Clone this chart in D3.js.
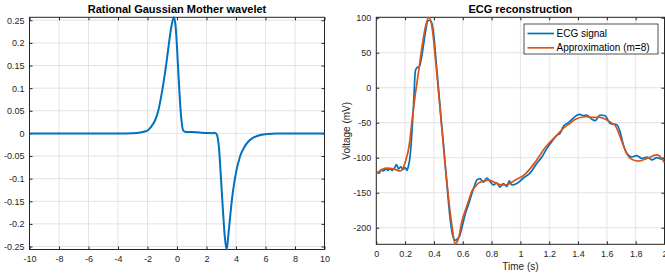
<!DOCTYPE html>
<html>
<head>
<meta charset="utf-8">
<script src="https://cdn.jsdelivr.net/npm/d3@7"></script>
<style>
  body { margin: 0; background: #fff; }
  svg { display: block; font-family: "Liberation Sans", Arial, sans-serif; }
</style>
</head>
<body>
<div id="chart"></div>
<script>
// Rational Gaussian mother wavelet
const waveX = [-10, -4, -3, -2.5, -2.0, -1.8, -1.5, -1.3, -1.0, -0.75, -0.55, -0.4, -0.22,
  -0.1, 0.0, 0.1, 0.2, 0.3, 0.43, 0.6, 1.0, 1.5, 2.0, 2.4, 2.55, 2.69, 2.85, 2.98, 3.12,
  3.25, 3.37, 3.46, 3.55, 3.71, 3.93, 4.27, 4.55, 4.84, 5.2, 5.74, 6.5, 10];
const waveY = [0, 0, 0.0005, 0.002, 0.006, 0.013, 0.028, 0.046, 0.095, 0.148, 0.198, 0.232, 0.2566,
  0.238, 0.19, 0.13, 0.072, 0.03, 0.006, 0.003, 0.003, 0.002, 0.001, 0.0005, 0.0012, -0.002, -0.033, -0.099, -0.173,
  -0.232, -0.2566, -0.232, -0.202, -0.15, -0.099, -0.051, -0.031, -0.018, -0.009, -0.003, -0.0005, 0];

// ECG signal
const ecgT = [0, 0.01, 0.02, 0.035, 0.05, 0.065, 0.08, 0.095, 0.11, 0.125, 0.14, 0.155, 0.17, 0.185,
  0.2, 0.213, 0.222, 0.236, 0.248, 0.26, 0.271, 0.283, 0.299, 0.317, 0.34, 0.359, 0.375, 0.387,
  0.398, 0.415, 0.433, 0.45, 0.468, 0.483, 0.498, 0.514, 0.53, 0.549, 0.562, 0.576, 0.595, 0.618,
  0.641, 0.653, 0.665, 0.685, 0.697, 0.72, 0.743, 0.766, 0.79, 0.813, 0.836, 0.859, 0.882, 0.905,
  0.924, 0.94, 0.975, 1.02, 1.067, 1.114, 1.149, 1.183, 1.218, 1.253, 1.276, 1.299, 1.333, 1.36,
  1.38, 1.41, 1.438, 1.461, 1.496, 1.519, 1.553, 1.588, 1.623, 1.669, 1.692, 1.715, 1.739, 1.773,
  1.808, 1.843, 1.878, 1.913, 1.947, 1.982, 2.0];
const ecgV = [-123, -121, -122, -117, -119, -116, -118, -116, -118, -115, -110, -116, -113, -117,
  -114, -118, -113, -95, -61, -18, 24, 29, 30, 47, 78, 96, 96, 91,
  77, 38, -4, -45, -85, -120, -157, -190, -211, -218, -216, -213, -199, -180,
  -166, -158, -150, -138, -132, -130, -135, -129, -134, -139, -136, -142, -137, -141,
  -133, -139, -137, -129, -122, -108, -99, -87, -77, -68, -65, -55, -50, -45,
  -41, -38, -40, -39, -45, -47, -39, -40, -51, -53, -63, -82, -94, -99,
  -97, -101, -99, -103, -100, -102, -100];

// Approximation (m=8)
const apxT = [0, 0.04, 0.074, 0.12, 0.167, 0.2, 0.23, 0.248, 0.271, 0.294, 0.317, 0.34, 0.364,
  0.387, 0.41, 0.433, 0.456, 0.479, 0.503, 0.526, 0.546, 0.572, 0.595, 0.618, 0.641, 0.665,
  0.688, 0.711, 0.75, 0.78, 0.85, 0.896, 0.965, 1.035, 1.104, 1.174, 1.243, 1.31, 1.345, 1.382,
  1.451, 1.507, 1.544, 1.6, 1.637, 1.658, 1.692, 1.727, 1.762, 1.82, 1.878, 1.947, 1.982, 2.0];
const apxV = [-123, -117, -115, -116, -119, -107, -80, -47, -9, 24, 58, 86, 100.5,
  86, 43, -9, -61, -114, -161, -199, -223, -214, -190, -175, -161, -147,
  -141, -136, -133, -132, -138, -139, -132, -123, -106, -85, -70, -56, -51, -45,
  -41.5, -42.5, -42, -46, -51, -54, -70, -89, -101, -105, -101, -96, -101, -107];

const waveXTicks = [-10, -8, -6, -4, -2, 0, 2, 4, 6, 8, 10];
const waveYTicks = [-0.25, -0.2, -0.15, -0.1, -0.05, 0, 0.05, 0.1, 0.15, 0.2, 0.25];
const ecgXTicks = [0, 0.2, 0.4, 0.6, 0.8, 1, 1.2, 1.4, 1.6, 1.8, 2];
const ecgYTicks = [-200, -150, -100, -50, 0, 50, 100];

const blue = "#0072BD", orange = "#D95319", ink = "#262626", gridCol = "#e3e3e3";
const fmt = d => String(d); // plain hyphen minus, like MATLAB

const svg = d3.select("#chart").append("svg")
  .attr("width", 665).attr("height", 274);

function panel(opt) {
  const { left, right, top, bottom, xDom, yDom, xTicks, yTicks, title, id } = opt;
  const w = right - left, h = bottom - top;
  const x = d3.scaleLinear().domain(xDom).range([0, w]);
  const y = d3.scaleLinear().domain(yDom).range([h, 0]);
  const g = svg.append("g").attr("transform", `translate(${left},${top})`);

  // grid
  g.append("g").selectAll("line").data(xTicks).join("line")
    .attr("x1", d => x(d)).attr("x2", d => x(d)).attr("y1", 0).attr("y2", h)
    .attr("stroke", gridCol);
  g.append("g").selectAll("line").data(yTicks).join("line")
    .attr("y1", d => y(d)).attr("y2", d => y(d)).attr("x1", 0).attr("x2", w)
    .attr("stroke", gridCol);

  g.append("clipPath").attr("id", id).append("rect")
    .attr("x", 0).attr("y", -1).attr("width", w).attr("height", h + 2);

  // axes with inward ticks
  const styleAxis = sel => {
    sel.select(".domain").remove();
    sel.selectAll("line").attr("stroke", ink);
    sel.selectAll("text").attr("fill", ink).style("font-size", "9px");
  };
  g.append("g").attr("transform", `translate(0,${h})`)
    .call(d3.axisBottom(x).tickValues(xTicks).tickSize(-3).tickPadding(6).tickFormat(fmt))
    .call(styleAxis);
  g.append("g")
    .call(d3.axisTop(x).tickValues(xTicks).tickSize(-3).tickFormat(""))
    .call(styleAxis);
  g.append("g")
    .call(d3.axisLeft(y).tickValues(yTicks).tickSize(-3).tickPadding(5).tickFormat(fmt))
    .call(styleAxis);
  g.append("g").attr("transform", `translate(${w},0)`)
    .call(d3.axisRight(y).tickValues(yTicks).tickSize(-3).tickFormat(""))
    .call(styleAxis);

  g.append("rect").attr("width", w).attr("height", h)
    .attr("fill", "none").attr("stroke", ink).attr("stroke-width", 1);

  svg.append("text")
    .attr("x", left + w / 2).attr("y", 13)
    .attr("text-anchor", "middle")
    .attr("fill", "#000")
    .style("font-size", "11px").style("font-weight", "bold")
    .text(title);

  return { g, x, y, w, h };
}

// left: wavelet
const p1 = panel({
  left: 29.5, right: 324.5, top: 17.3, bottom: 249.5,
  xDom: [-10, 10], yDom: [-0.2566, 0.2566],
  xTicks: waveXTicks, yTicks: waveYTicks,
  title: "Rational Gaussian Mother wavelet", id: "clipA"
});
const waveData = waveX.map((d, i) => [d, waveY[i]]);
p1.g.append("path").datum(waveData)
  .attr("clip-path", "url(#clipA)")
  .attr("fill", "none").attr("stroke", blue).attr("stroke-width", 2)
  .attr("stroke-linejoin", "round")
  .attr("d", d3.line().x(d => p1.x(d[0])).y(d => p1.y(d[1])).curve(d3.curveMonotoneX));

// right: ECG
const p2 = panel({
  left: 376.3, right: 664.5, top: 17.3, bottom: 244.3,
  xDom: [0, 2], yDom: [-223.7, 100.6],
  xTicks: ecgXTicks, yTicks: ecgYTicks,
  title: "ECG reconstruction", id: "clipB"
});
const ecgData = ecgT.map((d, i) => [d, ecgV[i]]);
const apxData = apxT.map((d, i) => [d, apxV[i]]);
const line2 = d3.line().x(d => p2.x(d[0])).y(d => p2.y(d[1])).curve(d3.curveMonotoneX);
p2.g.append("path").datum(ecgData)
  .attr("clip-path", "url(#clipB)")
  .attr("fill", "none").attr("stroke", blue).attr("stroke-width", 1.7)
  .attr("stroke-linejoin", "round").attr("d", line2);
p2.g.append("path").datum(apxData)
  .attr("clip-path", "url(#clipB)")
  .attr("fill", "none").attr("stroke", orange).attr("stroke-width", 1.7)
  .attr("stroke-linejoin", "round").attr("d", line2);

// axis labels
svg.append("text")
  .attr("x", 376.3 + p2.w / 2).attr("y", 270)
  .attr("text-anchor", "middle").attr("fill", ink)
  .style("font-size", "10px").text("Time (s)");
svg.append("text")
  .attr("transform", `translate(350,${17.3 + p2.h / 2}) rotate(-90)`)
  .attr("text-anchor", "middle").attr("fill", ink)
  .style("font-size", "10px").text("Voltage (mV)");

// legend
const legend = svg.append("g").attr("transform", "translate(524,24)");
legend.append("rect").attr("width", 134).attr("height", 30)
  .attr("fill", "#fff").attr("stroke", ink).attr("stroke-width", 0.8);
const items = [["ECG signal", blue], ["Approximation (m=8)", orange]];
items.forEach(([label, col], i) => {
  const yy = 9.5 + i * 14.3;
  legend.append("line").attr("x1", 3.5).attr("x2", 30).attr("y1", yy).attr("y2", yy)
    .attr("stroke", col).attr("stroke-width", 1.7);
  legend.append("text").attr("x", 32.5).attr("y", yy + 3.5)
    .attr("fill", "#000").style("font-size", "10px").text(label);
});
</script>
</body>
</html>
